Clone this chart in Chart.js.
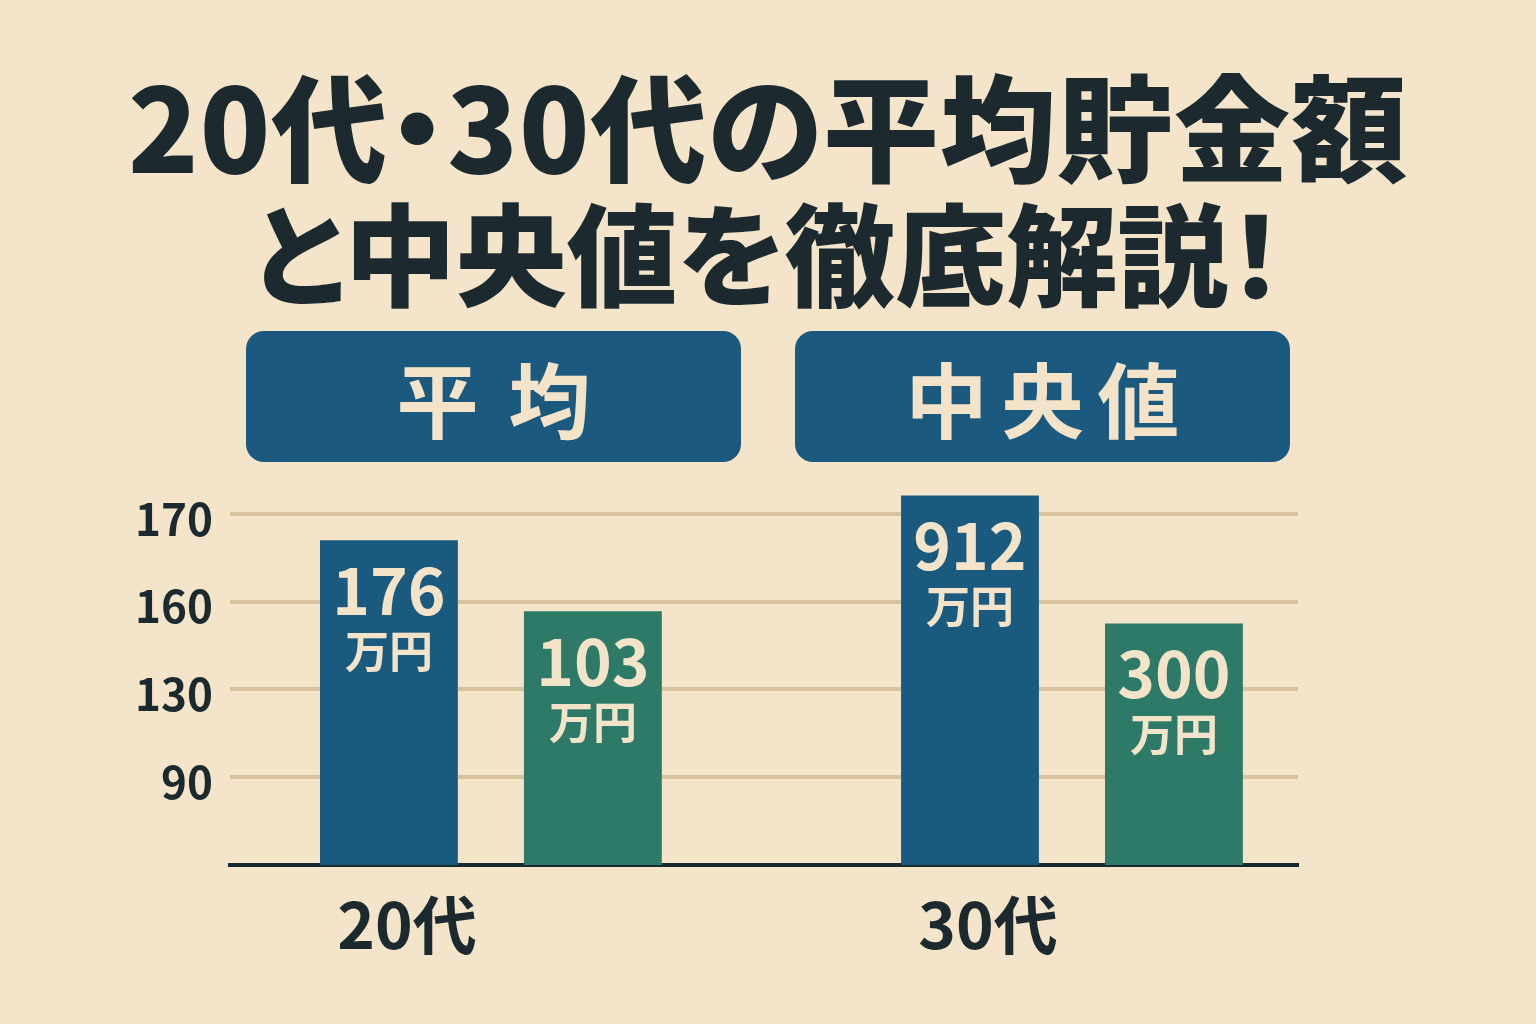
<!DOCTYPE html>
<html lang="ja">
<head>
<meta charset="utf-8">
<title>20代・30代の平均貯金額と中央値</title>
<script src="https://cdn.jsdelivr.net/npm/chart.js@4.4.1/dist/chart.umd.min.js"></script>
<style>
  html, body { margin: 0; padding: 0; }
  body {
    width: 1536px; height: 1024px; overflow: hidden; position: relative;
    background: #f4e4ca;
    font-family: "Noto Sans CJK JP", "Noto Sans", sans-serif;
  }
  #chart { position: absolute; left: 0; top: 0; }
  .title {
    position: absolute; left: 0; width: 1536px; text-align: center;
    font-weight: 900; color: #1c2a2f; white-space: nowrap;
    font-feature-settings: "palt";
  }
  .box {
    position: absolute; top: 331px; width: 495px; height: 131px;
    background: #1b5a7e; border-radius: 18px;
    color: #f3e3c8; font-weight: 700; font-size: 82px;
    display: flex; align-items: center; justify-content: center;
  }
</style>
</head>
<body>
<canvas id="chart" width="1536" height="1024"></canvas>
<div class="title" style="top:64px;font-size:116px;line-height:116px;letter-spacing:1px;">20代・30代の平均貯金額</div>
<div class="title" style="top:194px;font-size:111px;line-height:111px;">と中央値を徹底解説！</div>
<div class="box" style="left:246px;"><span style="letter-spacing:30px;padding-left:30px;">平均</span></div>
<div class="box" style="left:795px;"><span style="letter-spacing:14px;padding-left:14px;">中央値</span></div>
<script>
// categories and series
const categories = ['20代', '30代'];
const seriesNames = ['平均', '中央値'];
// bar heights in grid steps above the baseline (axis is not linear in its labels)
const averageLevels = [3.70, 4.21];
const medianLevels = [2.89, 2.75];
// values printed inside the bars (万円)
const averageLabels = [176, 912];
const medianLabels = [103, 300];
// tick labels on the gridlines, bottom to top
const yTickLabels = ['90', '130', '160', '170'];

const blue = '#1b5a7f';
const green = '#2e7a68';
const cream = '#f3e3c8';
const ink = '#1c2a2f';

// write the numbers and 万円 inside each bar
const barText = {
    id: 'barText',
    afterDatasetsDraw(chart) {
        const ctx = chart.ctx;
        const labelSets = [averageLabels, medianLabels];
        ctx.save();
        ctx.fillStyle = cream;
        ctx.textAlign = 'center';
        ctx.textBaseline = 'middle';
        chart.data.datasets.forEach((ds, i) => {
            chart.getDatasetMeta(i).data.forEach((bar, j) => {
                ctx.font = '600 64px "Noto Sans CJK JP", sans-serif';
                ctx.fillText(String(labelSets[i][j]), bar.x, bar.y + 50);
                ctx.font = '700 44px "Noto Sans CJK JP", sans-serif';
                ctx.fillText('万円', bar.x, bar.y + 111);
            });
        });
        ctx.restore();
    }
};

new Chart(document.getElementById('chart'), {
    type: 'bar',
    data: {
        datasets: [
            {
                label: seriesNames[0],
                data: averageLevels.map((v, i) => ({ x: i, y: v })),
                backgroundColor: blue
            },
            {
                label: seriesNames[1],
                data: medianLevels.map((v, i) => ({ x: i, y: v })),
                backgroundColor: green
            }
        ]
    },
    options: {
        responsive: false,
        animation: false,
        categoryPercentage: 0.702,
        barPercentage: 0.676,
        layout: { padding: { left: 130, right: 238, top: 470, bottom: 49 } },
        plugins: {
            legend: { display: false },
            tooltip: { enabled: false }
        },
        scales: {
            x: {
                type: 'linear',
                min: -0.449,
                max: 1.389,
                offset: false,
                afterBuildTicks: (scale) => { scale.ticks = categories.map((c, i) => ({ value: i })); },
                afterFit: (scale) => { scale.height = 110; },
                grid: { display: false, drawTicks: false, offset: false },
                border: { display: true, color: '#172a2e', width: 4 },
                ticks: {
                    callback: (v) => categories[v],
                    color: ink,
                    font: { family: '"Noto Sans CJK JP", sans-serif', size: 64, weight: '700' },
                    padding: 21,
                    labelOffset: -84,
                    maxRotation: 0
                }
            },
            y: {
                min: 0,
                max: 4.5,
                afterBuildTicks: (scale) => { scale.ticks = yTickLabels.map((t, i) => ({ value: i + 1 })); },
                afterFit: (scale) => { scale.width = 100; },
                grid: { color: '#d8c39e', lineWidth: 4, drawTicks: false },
                border: { display: false },
                ticks: {
                    callback: (v) => yTickLabels[v - 1],
                    color: ink,
                    font: { family: '"Noto Sans CJK JP", sans-serif', size: 44, weight: '600' },
                    padding: 17,
                    labelOffset: 5
                }
            }
        }
    },
    plugins: [barText]
});
</script>
</body>
</html>
